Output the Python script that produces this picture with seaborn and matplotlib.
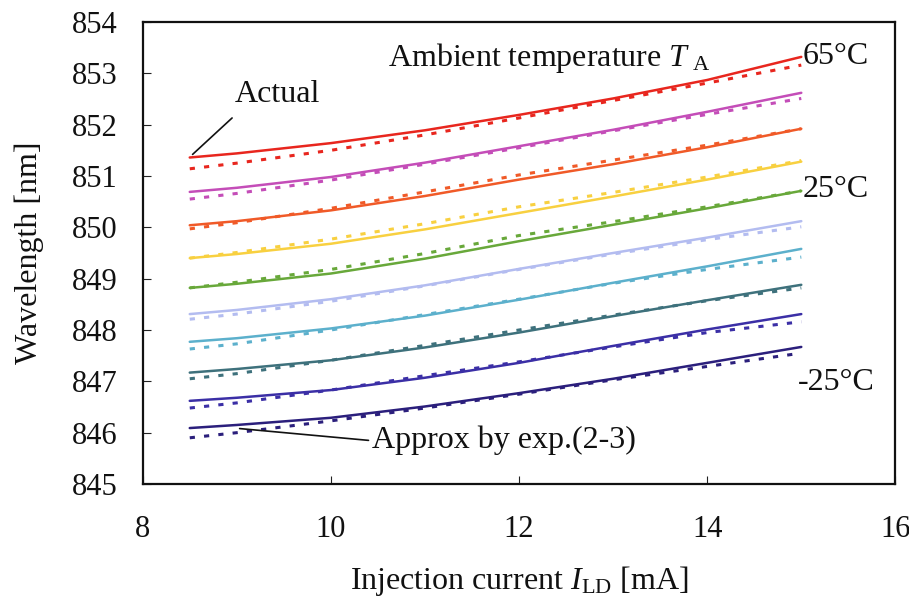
import matplotlib
matplotlib.use("Agg")
import matplotlib.pyplot as plt
import seaborn as sns
import pandas as pd

current_mA = [8.5, 9, 10, 11, 12, 13, 14, 15]

temps = ["65", "55", "45", "35", "25", "15", "5", "-5", "-15", "-25"]

actual = {
    "65":  [851.36, 851.44, 851.64, 851.89, 852.19, 852.51, 852.87, 853.32],
    "55":  [850.69, 850.77, 850.98, 851.26, 851.58, 851.90, 852.25, 852.62],
    "45":  [850.04, 850.12, 850.33, 850.61, 850.93, 851.23, 851.56, 851.92],
    "35":  [849.40, 849.48, 849.68, 849.96, 850.28, 850.60, 850.93, 851.28],
    "25":  [848.82, 848.90, 849.10, 849.39, 849.73, 850.05, 850.37, 850.71],
    "15":  [848.31, 848.39, 848.60, 848.87, 849.19, 849.50, 849.80, 850.12],
    "5":   [847.77, 847.84, 848.03, 848.28, 848.59, 848.92, 849.24, 849.58],
    "-5":  [847.17, 847.24, 847.41, 847.66, 847.95, 848.27, 848.58, 848.88],
    "-15": [846.62, 846.68, 846.83, 847.07, 847.36, 847.69, 848.01, 848.31],
    "-25": [846.09, 846.15, 846.29, 846.51, 846.77, 847.05, 847.36, 847.67],
}

approx = {
    "65":  [851.14, 851.25, 851.50, 851.80, 852.13, 852.47, 852.81, 853.16],
    "55":  [850.55, 850.66, 850.92, 851.23, 851.55, 851.88, 852.20, 852.51],
    "45":  [849.97, 850.09, 850.37, 850.69, 851.02, 851.31, 851.60, 851.92],
    "35":  [849.40, 849.51, 849.77, 850.07, 850.40, 850.68, 850.98, 851.30],
    "25":  [848.82, 848.93, 849.18, 849.49, 849.84, 850.11, 850.40, 850.71],
    "15":  [848.21, 848.31, 848.56, 848.86, 849.18, 849.48, 849.76, 850.01],
    "5":   [847.63, 847.73, 848.00, 848.30, 848.60, 848.91, 849.18, 849.42],
    "-5":  [847.05, 847.15, 847.41, 847.70, 848.00, 848.29, 848.57, 848.82],
    "-15": [846.48, 846.58, 846.83, 847.11, 847.38, 847.67, 847.95, 848.16],
    "-25": [845.90, 846.00, 846.23, 846.48, 846.75, 847.03, 847.29, 847.55],
}

colors = {
    "65": "#e8261e", "55": "#c44db8", "45": "#f05a28", "35": "#f8d040",
    "25": "#68a83a", "15": "#b3bcf0", "5": "#5cb0cc", "-5": "#3e717c",
    "-15": "#3b2fa6", "-25": "#2b1f7c",
}

x_ticks = [8, 10, 12, 14, 16]
y_ticks = [845, 846, 847, 848, 849, 850, 851, 852, 853, 854]

sns.set_theme(style="white")
plt.rcParams["font.family"] = ["Liberation Serif", "DejaVu Serif"]
plt.rcParams["mathtext.fontset"] = "custom"
plt.rcParams["mathtext.rm"] = "Liberation Serif"
plt.rcParams["mathtext.it"] = "Liberation Serif:italic"

fig = plt.figure(figsize=(9.09, 6.02), dpi=100)
ax = fig.add_axes([0.157, 0.196, 0.828, 0.7675])

rows = []
for t in temps:
    for xv, a, p in zip(current_mA, actual[t], approx[t]):
        rows.append({"I": xv, "wl": a, "T": t, "kind": "Actual"})
        rows.append({"I": xv, "wl": p, "T": t, "kind": "Approx"})
df = pd.DataFrame(rows)

for t in temps:
    sub = df[df["T"] == t]
    sns.lineplot(data=sub[sub["kind"] == "Approx"], x="I", y="wl", ax=ax,
                 color=colors[t], linewidth=2.2, linestyle=(0, (1.7, 3.0)),
                 legend=False)
    sns.lineplot(data=sub[sub["kind"] == "Actual"], x="I", y="wl", ax=ax,
                 color=colors[t], linewidth=1.8, legend=False)

ax.set_xlim(8, 16)
ax.set_ylim(845, 854)
ax.set_xticks(x_ticks)
ax.set_yticks(y_ticks)
ax.tick_params(axis="both", direction="in", length=6, width=0.8, colors="#222222",
               labelsize=22, labelcolor="#111111")
ax.tick_params(axis="y", pad=18, left=True)
ax.tick_params(axis="x", pad=22, bottom=True)
for s in ax.spines.values():
    s.set_visible(True)
    s.set_color("#111111")
    s.set_linewidth(1.6)

ax.set_xlabel(r"Injection current $I$$_{\mathrm{LD}}$ [mA]", fontsize=23, labelpad=15,
              color="#111111")
ax.set_ylabel("Wavelength [nm]", fontsize=23, labelpad=20, color="#111111")

ax.text(10.61, 853.3, r"Ambient temperature $T$$_{\mathrm{\ A}}$", fontsize=23,
        ha="left", va="center", color="#111111")
ax.text(15.01, 853.33, "65°C", fontsize=23, ha="left", va="center", color="#111111")
ax.text(15.01, 850.73, "25°C", fontsize=23, ha="left", va="center", color="#111111")
ax.text(14.96, 846.97, "-25°C", fontsize=23, ha="left", va="center", color="#111111")

ax.text(8.98, 852.58, "Actual", fontsize=23, ha="left", va="center", color="#111111")
ax.plot([8.53, 8.95], [851.42, 852.13], color="#111111", linewidth=1.2)

ax.text(10.44, 845.85, "Approx by exp.(2-3)", fontsize=23, ha="left", va="center",
        color="#111111")
ax.plot([9.03, 10.4], [846.08, 845.85], color="#111111", linewidth=1.2)

fig.savefig("out.png", dpi=100)
